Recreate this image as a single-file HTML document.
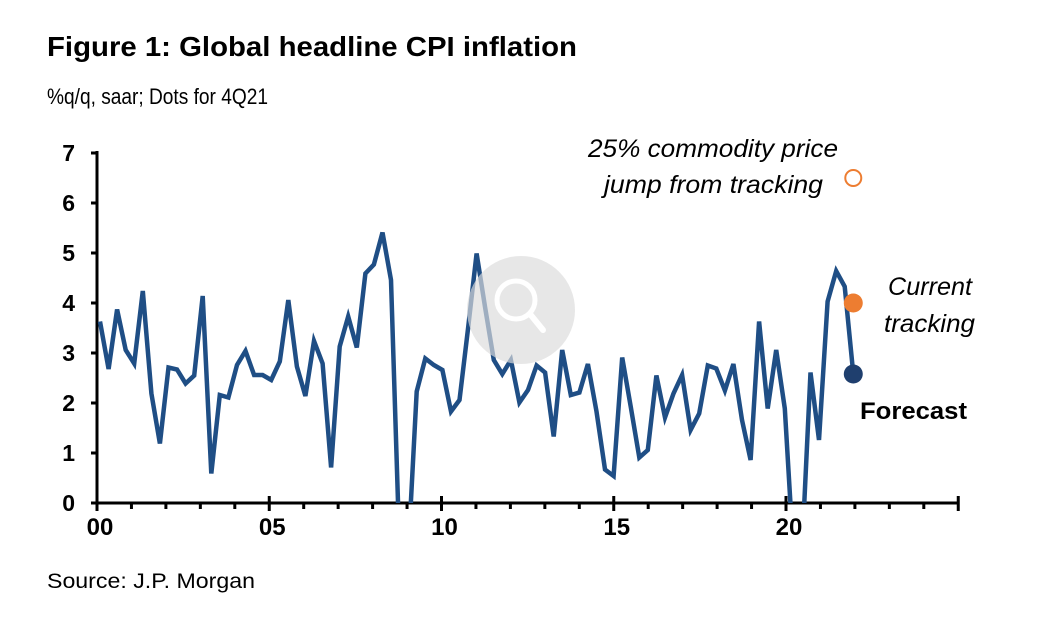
<!DOCTYPE html>
<html><head><meta charset="utf-8"><style>
body{margin:0;background:#fff;width:1040px;height:620px;overflow:hidden;font-family:"Liberation Sans",Arial,sans-serif}
</style></head><body>
<svg width="1040" height="620" xmlns="http://www.w3.org/2000/svg">
<text x="47" y="56" font-size="28" font-weight="bold" textLength="530" lengthAdjust="spacingAndGlyphs">Figure 1: Global headline CPI inflation</text>
<text x="47" y="104" font-size="22" textLength="221" lengthAdjust="spacingAndGlyphs">%q/q, saar; Dots for 4Q21</text>
<text x="47" y="588" font-size="21" textLength="208" lengthAdjust="spacingAndGlyphs">Source: J.P. Morgan</text>
<g id="axes"></g>
<g id="plot"></g>
<g opacity="0.85">
<circle cx="521" cy="310" r="54" fill="#dcdcdc" opacity="0.8"/>
<circle cx="516" cy="300" r="19" fill="none" stroke="#fff" stroke-width="5"/>
<line x1="530" y1="314" x2="543" y2="330" stroke="#fff" stroke-width="6" stroke-linecap="round"/>
</g>
<text x="588" y="157" font-size="25" font-style="italic" textLength="250" lengthAdjust="spacingAndGlyphs">25% commodity price</text>
<text x="604" y="193" font-size="25" font-style="italic" textLength="219" lengthAdjust="spacingAndGlyphs">jump from tracking</text>
<text x="888" y="295" font-size="25" font-style="italic" textLength="84" lengthAdjust="spacingAndGlyphs">Current</text>
<text x="884" y="332" font-size="25" font-style="italic" textLength="91" lengthAdjust="spacingAndGlyphs">tracking</text>
<text x="860" y="419" font-size="24" font-weight="bold" textLength="107" lengthAdjust="spacingAndGlyphs">Forecast</text>
</svg>
<script>
const values=[3.63,2.68,3.87,3.06,2.79,4.24,2.19,1.19,2.71,2.67,2.39,2.55,4.14,0.59,2.16,2.11,2.76,3.04,2.56,2.56,2.46,2.83,4.06,2.73,2.14,3.24,2.79,0.71,3.13,3.73,3.11,4.59,4.77,5.41,4.46,-1,-1,2.23,2.89,2.76,2.66,1.83,2.06,3.5,4.99,3.9,2.86,2.58,2.86,2.01,2.26,2.75,2.61,1.33,3.06,2.16,2.21,2.78,1.83,0.67,0.54,2.91,1.93,0.91,1.06,2.55,1.71,2.19,2.56,1.46,1.79,2.75,2.69,2.25,2.78,1.66,0.86,3.63,1.89,3.06,1.89,-1,-1,2.61,1.26,4.03,4.64,4.33,2.58];
const dotsIdx=88;
const dotForecast=2.58, dotTracking=4.0, dotCommodity=6.5;
const yTicks=[0,1,2,3,4,5,6,7];
const xTickLabels=["00","05","10","15","20"];
const xTickYears=[0,5,10,15,20];
const ns="http://www.w3.org/2000/svg";
const X0=97,YR=34.45,Y0=503,YU=50;
const xYear=t=>X0+t*YR;
const xQ=i=>100+i*8.56;
const y=v=>Y0-v*YU;
function mk(tag,attrs,parent){const e=document.createElementNS(ns,tag);for(const k in attrs)e.setAttribute(k,attrs[k]);parent.appendChild(e);return e;}
const axes=document.getElementById('axes'),plot=document.getElementById('plot');
let e=mk('line',{x1:X0,y1:y(7)-2,x2:X0,y2:Y0+2,stroke:'#000','stroke-width':3},axes);

e=mk('line',{x1:X0-2,y1:Y0,x2:xYear(25),y2:Y0,stroke:'#000','stroke-width':3},axes);

yTicks.forEach(v=>{mk('line',{x1:X0-6,y1:y(v),x2:X0,y2:y(v),stroke:'#000','stroke-width':3},axes);
 const t=mk('text',{x:X0-22,y:y(v)+8,'font-size':23,'font-weight':'bold','text-anchor':'end'},axes);t.textContent=v;
 });
for(let k=0;k<=25;k++){const major=k%5==0;mk('line',{x1:xYear(k),y1:Y0-(major?7:0),x2:xYear(k),y2:Y0+(major?8:6),stroke:'#000','stroke-width':3},axes);}
xTickYears.forEach((k,j)=>{const t=mk('text',{x:xYear(k)+3,y:Y0+32,'font-size':24,'font-weight':'bold','text-anchor':'middle'},axes);t.textContent=xTickLabels[j];
 });
const cp=mk('clipPath',{id:'clip'},plot);mk('rect',{x:X0,y:0,width:900,height:Y0},cp);
const pts=values.map((v,i)=>xQ(i).toFixed(1)+','+y(v).toFixed(1)).join(' ');
const line=mk('polyline',{points:pts,fill:'none',stroke:'#1f4e85','stroke-width':4.5,'stroke-linejoin':'miter','clip-path':'url(#clip)'},plot);

const dx=xQ(dotsIdx);
let d=mk('circle',{cx:dx,cy:y(dotCommodity),r:8,fill:'#fff',stroke:'#ed7d31','stroke-width':2},plot);

d=mk('circle',{cx:dx,cy:y(dotTracking),r:9.5,fill:'#ed7d31'},plot);

d=mk('circle',{cx:dx,cy:y(dotForecast),r:9.5,fill:'#1f3f6e'},plot);

</script>
</body></html>
